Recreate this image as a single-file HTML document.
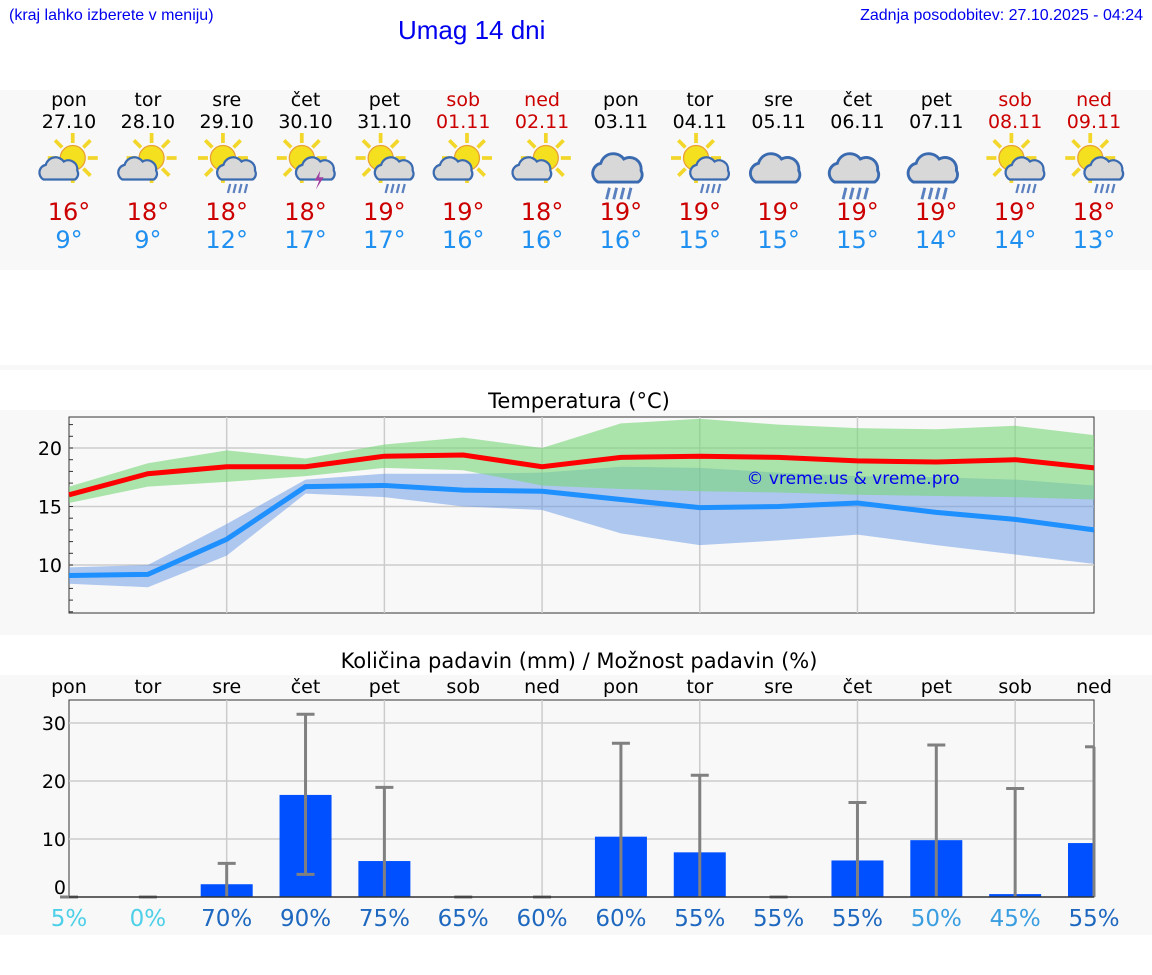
<!DOCTYPE html>
<html><head><meta charset="utf-8">
<style>
body{margin:0;width:1152px;height:975px;background:#fff;font-family:"DejaVu Sans","Liberation Sans",sans-serif;position:relative;overflow:hidden}
.abs{position:absolute}
.panel{position:absolute;left:0;width:1152px;background:#f8f8f8}
.day{position:absolute;width:80px;text-align:center;font-size:19px;line-height:22px}
.hi{color:#cc0000;font-size:24px;line-height:28px}.lo{color:#2090f0;font-size:24px;line-height:28px}
</style></head><body>
<div class="abs" style="left:9px;top:7px;font-size:16px;color:#0000ee;font-family:'Liberation Sans',sans-serif">(kraj lahko izberete v meniju)</div>
<div class="abs" style="left:398px;top:15px;font-size:26px;color:#0000ee;font-family:'Liberation Sans',sans-serif">Umag 14 dni</div>
<div class="abs" style="right:9px;top:7px;font-size:16px;color:#0000ee;font-family:'Liberation Sans',sans-serif">Zadnja posodobitev: 27.10.2025 - 04:24</div>
<div class="panel" style="top:90px;height:180px"></div>
<div class="panel" style="top:365px;height:5px"></div>
<div class="panel" style="top:410px;height:225px"></div>
<div class="panel" style="top:675px;height:260px"></div>
<div id="days"></div>
<svg id="chart" class="abs" style="left:0;top:0" width="1152" height="975"></svg>
<script>
const dayNames=["pon","tor","sre","čet","pet","sob","ned","pon","tor","sre","čet","pet","sob","ned"];
const dates=["27.10","28.10","29.10","30.10","31.10","01.11","02.11","03.11","04.11","05.11","06.11","07.11","08.11","09.11"];
const hiDay=[16,18,18,18,19,19,18,19,19,19,19,19,19,18];
const loDay=[9,9,12,17,17,16,16,16,15,15,15,14,14,13];
const icons=["sc","sc","sr","st","sr","sc","sc","r","sr","c","r","r","sr","sr"];
const tMax=[16.0,17.8,18.4,18.4,19.3,19.4,18.4,19.2,19.3,19.2,18.9,18.8,19.0,18.3];
const tMaxHi=[16.7,18.7,19.8,19.1,20.3,20.9,20.0,22.1,22.5,22.0,21.7,21.6,21.9,21.1];
const tMaxLo=[15.3,16.7,17.1,17.6,18.3,18.1,16.8,16.5,16.3,16.2,16.0,15.9,15.8,15.6];
const tMin=[9.1,9.2,12.2,16.7,16.8,16.4,16.3,15.6,14.9,15.0,15.3,14.5,13.9,13.0];
const tMinHi=[9.8,10.0,13.5,17.3,17.8,17.8,17.9,18.4,18.3,17.9,17.6,17.5,17.3,16.8];
const tMinLo=[8.4,8.1,10.8,16.1,15.8,15.0,14.7,12.7,11.7,12.1,12.6,11.7,10.9,10.1];
const tTicks=[10,15,20];
const rain=[0,0,2.2,17.6,6.2,0,0,10.4,7.7,0,6.3,9.8,0.5,9.3];
const rainHi=[0,0,5.8,31.5,18.9,0,0,26.5,21.0,0,16.3,26.2,18.7,25.9];
const rainLo=[0,0,0,3.9,0,0,0,0,0,0,0,0,0,0];
const pct=[5,0,70,90,75,65,60,60,55,55,55,50,45,55];
const rTicks=[0,10,20,30];
const NS="http://www.w3.org/2000/svg";
const svg=document.getElementById('chart');
const X0=69,X1=1094,DX=(X1-X0)/13;
const xd=i=>X0+i*DX;
const yt=v=>448+(20-v)*11.7;
const yr=v=>897-v*5.8;
function el(tag,attrs,parent){const e=document.createElementNS(NS,tag);for(const k in attrs)e.setAttribute(k,attrs[k]);(parent||svg).appendChild(e);return e;}
function txt(x,y,s,size,fill,anchor){const t=el('text',{x:x,y:y,'font-size':size,fill:fill||'#000','text-anchor':anchor||'middle','font-family':'DejaVu Sans, Liberation Sans, sans-serif'});t.textContent=s;return t;}
const dd=document.getElementById('days');
dayNames.forEach((n,i)=>{
 const d=document.createElement('div');d.className='day';
 
 
 d.style.left=(xd(i)-40)+'px';d.style.top='89px';
 const we=(i==5||i==6||i==12||i==13);
 d.innerHTML='<div style="color:'+(we?'#cc0000':'#000')+'">'+n+'<br>'+dates[i]+'</div><div style="height:65px"></div><div class="hi">'+hiDay[i]+'°</div><div class="lo">'+loDay[i]+'°</div>';
 dd.appendChild(d);
 const g=el('g',{transform:'translate('+xd(i)+',163) scale(1.25)'});
 
 
 const k=icons[i];
 if(k!='c'&&k!='r'){
  const sx=k=='sc'?3:-3;
  for(let a=0;a<8;a++){const an=a*Math.PI/4;el('line',{x1:sx+Math.cos(an)*12,y1:-4+Math.sin(an)*12,x2:sx+Math.cos(an)*20,y2:-4+Math.sin(an)*20,stroke:'#f2d72a','stroke-width':3},g);}
  el('circle',{cx:sx,cy:-4,r:10,fill:'#f5e020',stroke:'#e8a030','stroke-width':1},g);
 }
 const cx=k=='sc'?-6:(k=='c'||k=='r'?0:10), sc=(k=='c'||k=='r')?1.15:0.9;
 const cg=el('g',{transform:'translate('+cx+',6) scale('+sc+')'},g);
 el('path',{d:'M-16,8 a7,7 0 0 1 2,-13 a9,9 0 0 1 16,-3 a8,8 0 0 1 12,8 a6,6 0 0 1 -2,8 z',fill:'#d8d8d8',stroke:'#3a6ab0','stroke-width':2},cg);
 if(k=='sr'||k=='r'){for(let j=0;j<4;j++)el('line',{x1:-8+j*5,y1:12,x2:-10+j*5,y2:20,stroke:'#5a80c0','stroke-width':2},cg);}
 if(k=='st')el('path',{d:'M2,0 l-5,9 h4 l-3,8 l7,-11 h-4 z',fill:'#a040a0'},cg);
});
txt(579,408,'Temperatura (°C)',21,'#000');
el('rect',{x:X0,y:417,width:X1-X0,height:196,fill:'#f8f8f8',stroke:'#333','stroke-width':1});
tTicks.forEach(v=>{el('line',{x1:X0,x2:X1,y1:yt(v),y2:yt(v),stroke:'#ccc','stroke-width':1.5});txt(62,yt(v)+7,String(v),19,'#000','end');});
for(let v=6;v<=22;v++)el('line',{x1:X0,x2:X0+4,y1:yt(v),y2:yt(v),stroke:'#333'});
for(let i=2;i<13;i+=2)el('line',{x1:xd(i),x2:xd(i),y1:417,y2:613,stroke:'#ccc','stroke-width':1.5});
function band(hi,lo,fill){let d='M'+hi.map((v,i)=>xd(i)+','+yt(v)).join(' L')+' L'+lo.map((v,i)=>xd(i)+','+yt(v)).reverse().join(' L')+'Z';el('path',{d:d,fill:fill});}
band(tMinHi,tMinLo,'rgba(100,150,230,0.5)');
band(tMaxHi,tMaxLo,'rgba(120,215,120,0.6)');
const lMin=el('polyline',{points:tMin.map((v,i)=>xd(i)+','+yt(v)).join(' '),fill:'none',stroke:'#1e90ff','stroke-width':5});

const lMax=el('polyline',{points:tMax.map((v,i)=>xd(i)+','+yt(v)).join(' '),fill:'none',stroke:'#ff0000','stroke-width':5});

txt(853,484,'© vreme.us & vreme.pro',17,'#0000ee');
txt(579,668,'Količina padavin (mm) / Možnost padavin (%)',21,'#000');
dayNames.forEach((n,i)=>txt(xd(i),693,n,19,'#000'));
el('rect',{x:X0,y:700,width:X1-X0,height:197,fill:'#f8f8f8',stroke:'#333','stroke-width':1});
rTicks.forEach(v=>{if(v>0)el('line',{x1:X0,x2:X1,y1:yr(v),y2:yr(v),stroke:'#ccc','stroke-width':1.5});txt(66,yr(v)+(v==0?-3:7),String(v),19,'#000','end');});
for(let i=2;i<13;i+=2)el('line',{x1:xd(i),x2:xd(i),y1:700,y2:897,stroke:'#ccc','stroke-width':1.5});
rain.forEach((v,i)=>{
 const w=i==13?26:52;
 const b=el('rect',{x:xd(i)-26,y:yr(v),width:w,height:897-yr(v),fill:'#0050ff'});
 
 el('line',{x1:xd(i),x2:xd(i),y1:yr(rainHi[i]),y2:yr(rainLo[i]),stroke:'#808080','stroke-width':3});
 el('line',{x1:xd(i)-9,x2:i==13?xd(i):xd(i)+9,y1:yr(rainHi[i]),y2:yr(rainHi[i]),stroke:'#808080','stroke-width':3});
 if(rainLo[i]>0)el('line',{x1:xd(i)-9,x2:xd(i)+9,y1:yr(rainLo[i]),y2:yr(rainLo[i]),stroke:'#808080','stroke-width':3});
 const p=pct[i];const c=p<20?'#4dd0e8':(p<=50?'#3a9ee0':'#1e68bf');
 txt(xd(i),926,p+'%',23,c);
});
el('line',{x1:X0,x2:X1,y1:897,y2:897,stroke:'#333','stroke-width':1.5});
</script>
</body></html>
